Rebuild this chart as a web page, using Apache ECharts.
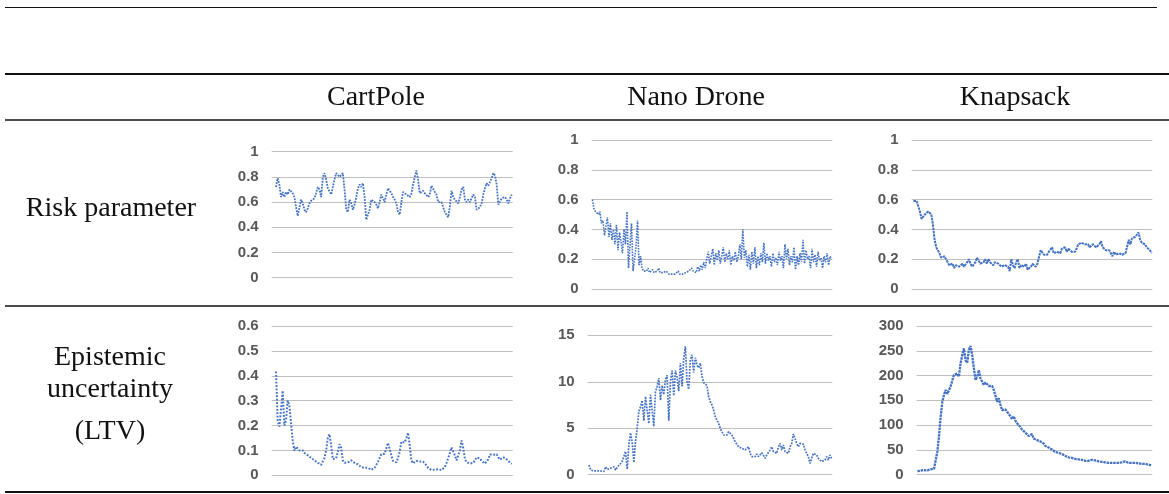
<!DOCTYPE html>
<html>
<head>
<meta charset="utf-8">
<script src="https://cdn.jsdelivr.net/npm/echarts@6.0.0/dist/echarts.min.js"></script>
<style>
  html, body { margin: 0; padding: 0; background: #fff; }
  #main { width: 1169px; height: 494px; }
</style>
</head>
<body>
<div id="main"></div>
<script>
// column / row headers
const columns = ['CartPole', 'Nano Drone', 'Knapsack'];
const rowRisk = ['Risk parameter'];
const rowLtv = ['Epistemic', 'uncertainty', '(LTV)'];

// y ticks per panel
const riskTicks = [0, 0.2, 0.4, 0.6, 0.8, 1];
const cartLtvTicks = [0, 0.1, 0.2, 0.3, 0.4, 0.5, 0.6];
const droneLtvTicks = [0, 5, 10, 15];
const knapLtvTicks = [0, 50, 100, 150, 200, 250, 300];

// values
const cartpoleRisk = [0.72,0.79,0.74,0.64,0.68,0.64,0.68,0.66,0.70,0.70,0.67,0.64,0.56,0.49,0.50,0.62,0.59,0.54,0.52,0.55,
  0.59,0.61,0.60,0.63,0.67,0.72,0.70,0.64,0.80,0.83,0.78,0.71,0.70,0.66,0.72,0.78,0.83,0.82,0.80,0.80,
  0.83,0.70,0.54,0.52,0.62,0.59,0.54,0.58,0.64,0.71,0.74,0.72,0.75,0.64,0.46,0.47,0.54,0.62,0.63,0.60,
  0.58,0.55,0.60,0.66,0.63,0.60,0.66,0.71,0.70,0.67,0.64,0.62,0.59,0.52,0.50,0.60,0.68,0.67,0.66,0.67,
  0.64,0.67,0.74,0.80,0.85,0.78,0.67,0.68,0.69,0.67,0.68,0.64,0.66,0.73,0.72,0.68,0.66,0.60,0.59,0.60,
  0.56,0.52,0.51,0.48,0.56,0.69,0.64,0.62,0.63,0.59,0.64,0.70,0.72,0.62,0.60,0.62,0.60,0.59,0.66,0.64,
  0.54,0.55,0.56,0.59,0.66,0.71,0.75,0.73,0.72,0.79,0.83,0.81,0.74,0.58,0.59,0.63,0.62,0.64,0.62,0.59,
  0.63,0.66];

const droneRisk = [0.60,0.54,0.52,0.53,0.50,0.52,0.44,0.46,0.36,0.42,0.48,0.35,0.44,0.33,0.40,0.30,0.43,0.26,0.38,0.32,
  0.24,0.40,0.30,0.52,0.14,0.30,0.44,0.12,0.20,0.28,0.46,0.16,0.22,
  0.14,0.12,0.13,0.12,0.14,0.11,0.12,0.13,0.11,0.10,0.12,0.14,0.11,0.10,0.11,0.10,0.12,0.11,0.10,0.11,
  0.10,0.11,0.10,0.11,0.12,0.10,0.11,0.10,0.10,0.11,0.10,0.12,0.11,0.14,0.12,0.13,0.11,0.15,0.12,0.16,
  0.13,0.18,0.14,
  0.20,0.25,0.17,0.22,0.27,0.16,0.24,0.19,0.26,0.17,0.22,0.28,0.18,0.24,0.20,0.26,0.16,0.22,0.19,0.25,
  0.18,0.22,0.30,0.20,0.40,0.21,0.26,0.15,0.23,0.13,0.25,0.17,0.28,0.14,0.22,0.16,0.24,0.18,0.31,0.17,
  0.24,0.19,0.22,0.15,0.24,0.18,0.21,0.16,0.25,0.19,0.22,0.14,0.30,0.20,0.27,0.16,0.22,0.18,0.28,0.13,
  0.22,0.16,0.24,0.18,0.33,0.17,0.26,0.20,0.22,0.14,0.27,0.18,0.23,0.15,0.25,0.19,0.21,0.14,0.22,0.18,
  0.24,0.16,0.22,0.20];

const knapsackRisk = [0.59,0.58,0.59,0.58,0.52,0.47,0.46,0.50,0.51,0.52,0.51,0.50,0.43,0.33,0.28,0.26,0.24,0.21,0.20,0.22,
  0.21,0.18,0.16,0.15,0.17,0.14,0.16,0.17,0.15,0.16,0.17,0.15,0.16,0.18,0.20,0.17,0.15,0.16,0.18,0.21,
  0.20,0.17,0.16,0.18,0.20,0.17,0.20,0.18,0.17,0.16,0.18,0.18,0.17,0.16,0.15,0.14,0.16,0.17,0.15,0.12,
  0.20,0.16,0.14,0.18,0.20,0.14,0.16,0.17,0.15,0.17,0.13,0.14,0.15,0.17,0.16,0.15,0.17,0.17,0.26,0.25,
  0.23,0.24,0.23,0.25,0.26,0.28,0.24,0.23,0.25,0.26,0.24,0.27,0.26,0.28,0.25,0.27,0.26,0.25,0.24,0.25,
  0.27,0.30,0.30,0.31,0.30,0.30,0.29,0.30,0.28,0.27,0.30,0.31,0.28,0.27,0.30,0.32,0.28,0.27,0.26,0.27,
  0.26,0.24,0.22,0.25,0.23,0.22,0.24,0.23,0.23,0.22,0.24,0.25,0.33,0.30,0.34,0.33,0.35,0.36,0.38,0.33,
  0.31,0.32,0.30,0.28,0.27,0.26,0.24];

const cartpoleLtv = [0.417,0.22,0.196,0.262,0.34,0.20,0.222,0.30,0.28,0.209,0.14,0.098,0.115,0.12,0.10,0.10,
  0.10,0.09,0.084,0.08,0.076,0.07,0.066,0.06,0.056,0.05,0.044,0.042,0.05,0.07,0.10,0.15,0.165,0.12,0.065,0.057,
  0.068,0.095,0.125,0.11,0.06,0.05,0.053,0.052,0.058,0.06,0.057,0.05,0.048,0.044,0.037,0.033,0.029,0.03,0.034,0.03,
  0.026,0.022,0.022,0.03,0.042,0.055,0.07,0.085,0.088,0.087,0.095,0.13,0.135,0.08,0.058,0.05,0.052,0.07,0.095,0.135,
  0.14,0.132,0.15,0.171,0.12,0.06,0.048,0.052,0.058,0.053,0.055,0.058,0.055,0.05,0.04,0.03,0.024,0.021,0.021,0.023,
  0.021,0.024,0.024,0.021,0.026,0.033,0.05,0.068,0.09,0.112,0.105,0.08,0.06,0.062,0.10,0.14,0.11,0.066,0.053,0.049,
  0.047,0.046,0.05,0.058,0.072,0.075,0.068,0.058,0.05,0.047,0.05,0.064,0.084,0.087,0.083,0.09,0.085,0.072,0.063,0.063,
  0.072,0.07,0.064,0.057,0.05,0.046];

const droneLtv = [1.04,0.5,0.45,0.4,0.35,0.42,0.38,0.4,0.45,0.35,0.85,0.55,0.45,0.7,0.6,0.85,0.5,0.8,0.95,1.2,1.45,
  1.6,2.5,0.6,3.3,4.5,3.5,1.3,3.6,5.0,6.8,7.3,8.0,5.8,8.4,8.6,5.5,8.6,8.5,5.2,8.9,9.5,10.4,8.0,9.6,8.6,10.2,
  10.7,5.8,10.0,11.2,8.5,11.2,10.5,9.0,12.0,9.5,12.5,13.8,10.0,9.2,12.4,12.9,11.0,12.6,11.8,11.5,12.0,10.6,9.9,10.0,9.6,
  8.4,7.86,7.5,6.96,6.24,6.07,5.53,4.99,4.63,4.27,4.45,4.27,4.63,4.45,4.27,3.91,3.55,3.37,3.01,2.84,2.84,2.73,2.66,
  2.48,3.01,2.3,1.94,2.12,1.94,2.23,1.94,2.12,2.37,2.23,1.76,2.12,2.3,2.66,3.01,2.48,2.66,2.3,3.01,3.37,2.66,3.19,
  2.48,2.66,2.3,3.01,3.37,4.38,3.91,3.37,3.01,3.37,3.19,3.3,2.66,2.3,1.94,1.22,1.76,2.3,2.48,2.12,1.76,1.58,1.4,
  1.22,1.58,1.94,1.58,2.12,1.76];

const knapsackLtv = [7.4,7.4,8,8.7,9.4,8.7,8.7,10,10.8,10.8,12,
  16,46,77,117,147,161,171,163,165,178,190,201,201,204,198,225,241,255,231,226,252,260,241,215,191,198,211,194,191,
  181,186,190,179,179,179,171,159,147,154,141,130,129,132,127,129,118,112,118,109,104,100,96,91,89,85,82,78,80,82,
  73,71,70,69,67,65,63,58,56,55,53,51,48,46,46,44,43,42,40,38,36,35,34,34,34,32,32,31,31,30,29,28,28,28,28,
  30,28,29,30,27,26,26,25,25,25,24,24,24,24,24,25,24,24,25,26,27,26,24,24,24,24,24,24,23,23,22,22,22,21,20,20,19];

const chart = echarts.init(document.getElementById('main'));

// panel boxes: left, top, width, height of the plot area, plus inset of the line inside it
const panels = [
  { data: cartpoleRisk, ticks: riskTicks, box: [271.7, 151.7, 241, 126], inL: 4.3, inR: 1, lw: 1.8, dash: [1.8, 1.2] },
  { data: droneRisk, ticks: riskTicks, box: [591.7, 140, 240.6, 149], inL: 0.7, inR: 0.7, lw: 1.6, dash: [1.6, 1.2] },
  { data: knapsackRisk, ticks: riskTicks, box: [911.7, 140, 240.6, 149], inL: 1.7, inR: 0.7, lw: 2, dash: [2.5, 0.8] },
  { data: cartpoleLtv, ticks: cartLtvTicks, box: [271.7, 326, 241, 149.3], inL: 4.3, inR: 1, lw: 2, dash: [1.8, 1.6] },
  { data: droneLtv, ticks: droneLtvTicks, box: [587.7, 335.3, 244.6, 139.4], inL: 1.3, inR: 0.7, lw: 1.7, dash: [1.8, 1.2] },
  { data: knapsackLtv, ticks: knapLtvTicks, box: [916.7, 326, 235.6, 148.7], inL: 0.7, inR: 0.7, lw: 2.3, dash: [2.5, 0.8] }
];

let grids = [], xAxes = [], yAxes = [], series = [];
panels.forEach((p, i) => {
  const n = p.data.length;
  const w = p.box[2];
  const per = (n - 1) / (w - p.inL - p.inR);
  grids.push({ left: p.box[0], top: p.box[1], width: w, height: p.box[3] });
  xAxes.push({ type: 'value', gridIndex: i, show: false, min: -p.inL * per, max: (n - 1) + p.inR * per });
  yAxes.push({
    type: 'value', gridIndex: i,
    min: p.ticks[0], max: p.ticks[p.ticks.length - 1], interval: p.ticks[1] - p.ticks[0],
    axisLine: { show: false }, axisTick: { show: false },
    splitLine: { lineStyle: { color: '#bfbfbf', width: 1 } },
    axisLabel: { color: '#595959', fontSize: 15, fontWeight: 'bold', fontFamily: 'Liberation Sans, Arial, sans-serif', margin: 13 }
  });
  series.push({
    type: 'line', xAxisIndex: i, yAxisIndex: i, symbol: 'none', animation: false,
    lineStyle: { color: '#4472C4', width: p.lw, type: p.dash },
    data: p.data.map((v, k) => [k, v])
  });
});

const serif = 'Liberation Serif, Times New Roman, serif';
function txt(s, x, y) {
  return { type: 'text', x: x, y: y, style: { text: s, font: '28px ' + serif, fill: '#111', align: 'center', verticalAlign: 'middle' } };
}
function rule(y, x1, x2, w) {
  return { type: 'line', shape: { x1: x1, y1: y, x2: x2, y2: y }, style: { stroke: '#111', lineWidth: w } };
}

const graphics = [
  rule(7.5, 5, 1157, 1.2),
  rule(74, 5, 1169, 2),
  rule(120, 5, 1169, 1.5),
  rule(306, 5, 1169, 1.5),
  rule(492, 5, 1169, 2),
  txt(columns[0], 376, 98),
  txt(columns[1], 696, 98),
  txt(columns[2], 1015, 98),
  txt(rowRisk[0], 111, 209),
  txt(rowLtv[0], 110, 358),
  txt(rowLtv[1], 110, 390),
  txt(rowLtv[2], 110, 432)
];

chart.setOption({
  animation: false,
  grid: grids,
  xAxis: xAxes,
  yAxis: yAxes,
  series: series,
  graphic: graphics
});
</script>
</body>
</html>
